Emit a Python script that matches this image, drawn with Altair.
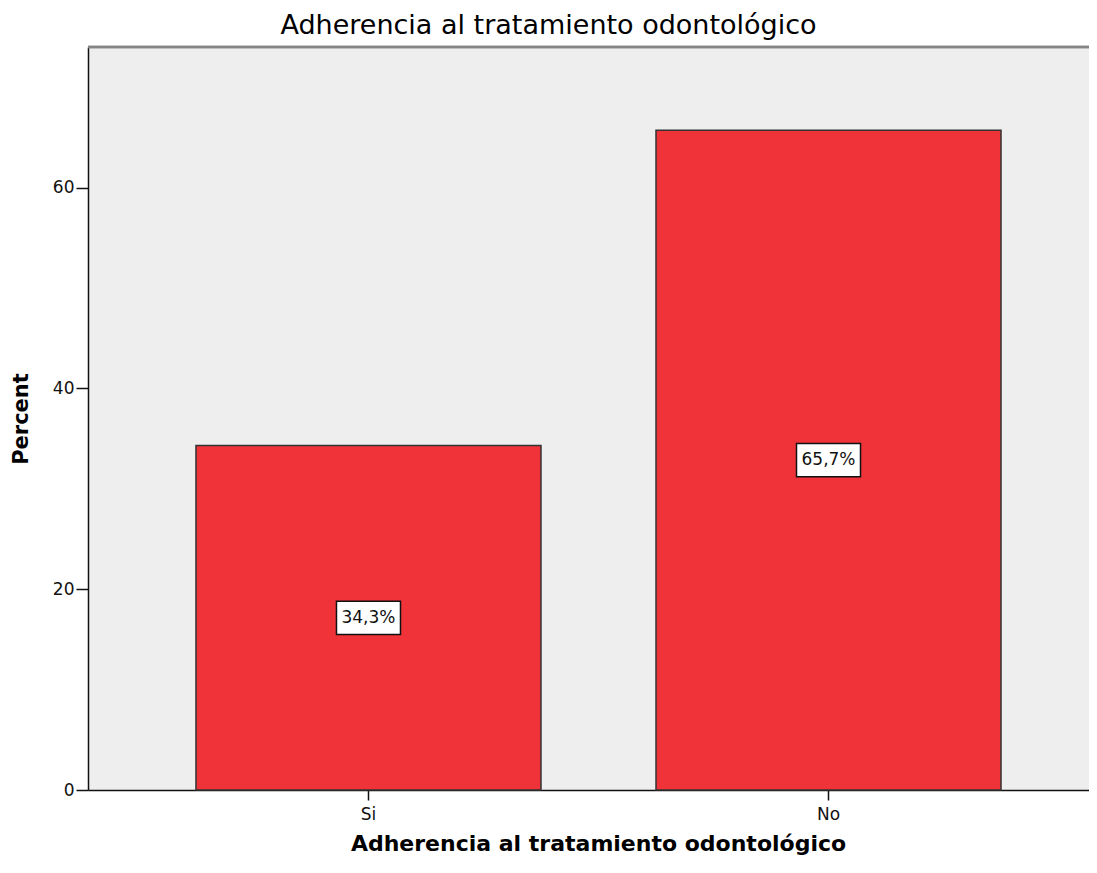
import altair as alt
import pandas as pd

categories = ["Si", "No"]
percents = [34.3, 65.7]
labels = ["34,3%", "65,7%"]
y_ticks = [0, 20, 40, 60]
y_max = 74

df = pd.DataFrame({"cat": categories, "pct": percents, "label": labels})

W = 1001
H = 743
FONT = "DejaVu Sans"

xscale = alt.Scale(domain=categories, paddingInner=0.25, paddingOuter=0.213,
                   align=0.551, round=False)
yscale = alt.Scale(domain=[0, y_max], nice=False, zero=True)

x_enc = alt.X("cat:N", scale=xscale, sort=categories,
              axis=alt.Axis(title="Adherencia al tratamiento odontológico",
                            labelAngle=0, labelFont=FONT, labelFontSize=17,
                            labelColor="#111111", labelPadding=6,
                            tickSize=10, tickColor="#111111", tickWidth=1.5,
                            domainColor="#111111", domainWidth=1.5,
                            titleFont=FONT, titleFontSize=22, titleFontWeight="bold",
                            titleColor="#000000", titleX=510, titleY=60,
                            titleBaseline="alphabetic", titleAlign="center",
                            grid=False))
y_enc = alt.Y("pct:Q", scale=yscale,
              axis=alt.Axis(title="Percent", values=y_ticks, format="d",
                            labelFont=FONT, labelFontSize=17, labelColor="#111111",
                            labelPadding=2, tickSize=12, tickColor="#111111",
                            tickWidth=1.5, domainColor="#111111", domainWidth=1.5,
                            titleFont=FONT, titleFontSize=21, titleFontWeight="bold",
                            titleColor="#000000", titleAngle=270, titleX=-67,
                            titleBaseline="middle", grid=False))

base = alt.Chart(df)

bars = base.mark_bar(color="#ef3339", stroke="#333333", strokeWidth=1.5).encode(
    x=x_enc, y=y_enc
)

top_rule = base.mark_rule(color="#858585", strokeWidth=2.5).encode(
    x=alt.value(0), x2=alt.value(W), y=alt.value(0)
)

boxes = base.transform_calculate(mid="datum.pct / 2").mark_point(
    shape="M-1,-0.52L1,-0.52L1,0.52L-1,0.52Z", size=64 * 64, filled=True,
    fill="white", stroke="#111111", strokeWidth=1.5, opacity=1
).encode(
    x=alt.X("cat:N", scale=xscale, sort=categories),
    y=alt.Y("mid:Q", scale=yscale),
)

texts = base.transform_calculate(mid="datum.pct / 2").mark_text(
    font=FONT, fontSize=17, color="#111111", baseline="middle", align="center"
).encode(
    x=alt.X("cat:N", scale=xscale, sort=categories),
    y=alt.Y("mid:Q", scale=yscale),
    text="label:N",
)

chart = alt.layer(bars, top_rule, boxes, texts).properties(
    width=W, height=H,
    title=alt.Title("Adherencia al tratamiento odontológico", font=FONT,
                    fontSize=27, fontWeight="normal", color="#000000",
                    anchor="middle", frame="group", dx=-40, dy=27, offset=12,
                    baseline="alphabetic"),
    autosize=alt.AutoSizeParams(type="none"),
    padding={"left": 80, "top": 39, "right": 0, "bottom": 66},
).configure_view(fill="#eeeeee", stroke="transparent")

chart.save("out.html", embed_options={"renderer": "svg", "actions": False})
